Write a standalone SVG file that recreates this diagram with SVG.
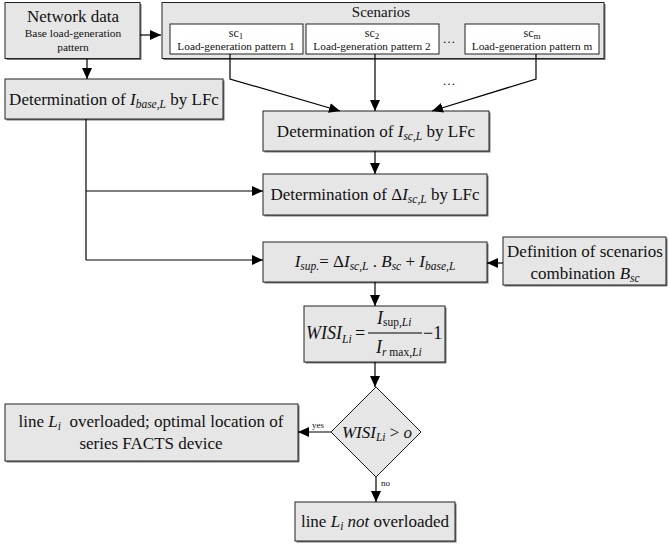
<svg xmlns="http://www.w3.org/2000/svg" width="669" height="546" viewBox="0 0 669 546" font-family="'Liberation Serif', 'Times New Roman', serif">
<defs>
<marker id="ah" markerUnits="userSpaceOnUse" markerWidth="12" markerHeight="10" refX="11" refY="5" orient="auto">
<path d="M0,0 L11,5 L0,10 z" fill="#000"/>
</marker>
<style>
text{font-family:'Liberation Serif','Times New Roman',serif;fill:#111}
.box{fill:#e6e6e6;stroke:#222;stroke-width:1}
.sh{fill:#777}
.wbox{fill:#fff;stroke:#222;stroke-width:1}
.c{fill:none;stroke:#000;stroke-width:1.2;marker-end:url(#ah)}
.l{fill:none;stroke:#000;stroke-width:1.2}
.m{text-anchor:middle}
.it{font-style:italic}
</style>
</defs>

<g id="network">
<rect class="sh" x="6.5" y="4" width="135" height="56"/>
<rect class="box" x="5" y="2.5" width="135" height="56"/>
<text class="m" x="73" y="22" font-size="17">Network data</text>
<text class="m" x="73" y="37" font-size="11.4">Base load-generation</text>
<text class="m" x="73" y="51" font-size="11.4">pattern</text>
</g>

<g id="scenarios">
<rect class="sh" x="163.5" y="4" width="442" height="56"/>
<rect class="box" x="162" y="2.5" width="442" height="56"/>
<text class="m" x="381" y="17" font-size="15">Scenarios</text>
<g id="sc1">
<rect class="wbox" x="170" y="24" width="133" height="30"/>
<text class="m" x="236" y="37" font-size="12">sc<tspan font-size="9" dy="2">1</tspan></text>
<text class="m" x="236" y="50" font-size="11.3">Load-generation pattern 1</text>
</g>
<g id="sc2">
<rect class="wbox" x="306" y="24" width="133" height="30"/>
<text class="m" x="372" y="37" font-size="12">sc<tspan font-size="9" dy="2">2</tspan></text>
<text class="m" x="372" y="50" font-size="11.3">Load-generation pattern 2</text>
</g>
<text class="m" x="449" y="43" font-size="13">…</text>
<g id="scm">
<rect class="wbox" x="465" y="24" width="134" height="30"/>
<text class="m" x="532" y="37" font-size="12">sc<tspan font-size="9" dy="2">m</tspan></text>
<text class="m" x="532" y="50" font-size="11.3">Load-generation pattern m</text>
</g>
</g>

<g id="ibase">
<rect class="sh" x="6.5" y="80.5" width="218" height="40"/>
<rect class="box" x="5" y="79" width="218" height="40"/>
<text class="m" x="114" y="105" font-size="17">Determination of <tspan class="it">I</tspan><tspan class="it" font-size="11.5" dy="3">base,L</tspan><tspan dy="-3"> by LFc</tspan></text>
</g>

<g id="isc">
<rect class="sh" x="264.5" y="112.5" width="226" height="40"/>
<rect class="box" x="263" y="111" width="226" height="40"/>
<text class="m" x="376" y="137" font-size="17">Determination of <tspan class="it">I</tspan><tspan class="it" font-size="11.5" dy="3">sc,L</tspan><tspan dy="-3"> by LFc</tspan></text>
</g>

<g id="disc">
<rect class="sh" x="264.5" y="175.5" width="224" height="41"/>
<rect class="box" x="263" y="174" width="224" height="41"/>
<text class="m" x="375" y="200" font-size="17">Determination of Δ<tspan class="it">I</tspan><tspan class="it" font-size="11.5" dy="3">sc,L</tspan><tspan dy="-3"> by LFc</tspan></text>
</g>

<g id="isup">
<rect class="sh" x="264.5" y="243.5" width="224" height="40"/>
<rect class="box" x="263" y="242" width="224" height="40"/>
<text class="m" x="375" y="267" font-size="17"><tspan class="it">I</tspan><tspan class="it" font-size="11.5" dy="3">sup.</tspan><tspan dy="-3">= Δ</tspan><tspan class="it">I</tspan><tspan class="it" font-size="11.5" dy="3">sc,L</tspan><tspan dy="-3"> . </tspan><tspan class="it">B</tspan><tspan class="it" font-size="11.5" dy="3">sc</tspan><tspan dy="-3"> + </tspan><tspan class="it">I</tspan><tspan class="it" font-size="11.5" dy="3">base,L</tspan></text>
</g>

<g id="definition">
<rect class="sh" x="504.5" y="238.5" width="163" height="48"/>
<rect class="box" x="503" y="237" width="163" height="48"/>
<text class="m" x="585" y="257" font-size="17">Definition of scenarios</text>
<text class="m" x="585" y="279" font-size="17">combination <tspan class="it">B</tspan><tspan class="it" font-size="11.5" dy="3">sc</tspan></text>
</g>

<g id="wisi">
<rect class="sh" x="305.5" y="307.5" width="141" height="56"/>
<rect class="box" x="304" y="306" width="141" height="56"/>
<text x="306" y="339" font-size="18" class="it">WISI<tspan font-size="11.5" dy="4">Li</tspan></text>
<text x="355" y="339" font-size="18">=</text>
<line x1="368" y1="333" x2="422" y2="333" stroke="#000" stroke-width="1"/>
<text x="377" y="324" font-size="18" class="it">I<tspan font-size="11.5" dy="2" font-style="normal">sup,</tspan><tspan font-size="11.5">Li</tspan></text>
<text x="376" y="353" font-size="18" class="it">I<tspan font-size="11.5" dy="3">r</tspan><tspan font-size="11.5" font-style="normal"> max,</tspan><tspan font-size="11.5">Li</tspan></text>
<text x="423" y="339" font-size="18">−1</text>
</g>

<g id="decision">
<path class="box" d="M376,387 L421,432 L376,477 L331,432 z"/>
<text class="m" x="377" y="438" font-size="17"><tspan class="it">WISI</tspan><tspan class="it" font-size="11.5" dy="3">Li</tspan><tspan dy="-3"> &gt; </tspan><tspan class="it">o</tspan></text>
</g>

<g id="overloaded">
<rect class="sh" x="6.5" y="405.5" width="293" height="57"/>
<rect class="box" x="5" y="404" width="293" height="57"/>
<text class="m" x="151" y="427" font-size="17">line <tspan class="it">L</tspan><tspan class="it" font-size="11.5" dy="3">i</tspan><tspan dy="-3" xml:space="preserve">  overloaded; optimal location of</tspan></text>
<text class="m" x="151" y="449" font-size="17">series FACTS device</text>
</g>

<g id="notoverloaded">
<rect class="sh" x="296.5" y="503.5" width="160" height="39"/>
<rect class="box" x="295" y="502" width="160" height="39"/>
<text class="m" x="375" y="527" font-size="17">line <tspan class="it">L</tspan><tspan class="it" font-size="11.5" dy="3">i</tspan><tspan dy="-3"> </tspan><tspan class="it">not</tspan> overloaded</text>
</g>

<g id="connectors">
<line class="c" x1="140" y1="35" x2="161" y2="35"/>
<line class="c" x1="87" y1="59" x2="87" y2="79"/>
<polyline class="c" points="230,54 230,79 340,111"/>
<line class="c" x1="375" y1="54" x2="375" y2="111"/>
<polyline class="c" points="536,54 536,79 432,111"/>
<text class="m" x="449" y="85" font-size="13">…</text>
<line class="c" x1="375" y1="151" x2="375" y2="174"/>
<polyline class="l" points="86,119 86,260"/>
<line class="c" x1="86" y1="191" x2="263" y2="191"/>
<line class="c" x1="86" y1="260" x2="263" y2="260"/>
<line class="c" x1="375" y1="282" x2="375" y2="306"/>
<line class="c" x1="503" y1="263" x2="487" y2="263"/>
<line class="c" x1="375" y1="362" x2="375" y2="387"/>
<line class="c" x1="331" y1="432" x2="298" y2="432"/>
<text x="312" y="428" font-size="9">yes</text>
<line class="c" x1="376" y1="477" x2="376" y2="502"/>
<text x="381" y="486" font-size="9">no</text>
</g>
</svg>
